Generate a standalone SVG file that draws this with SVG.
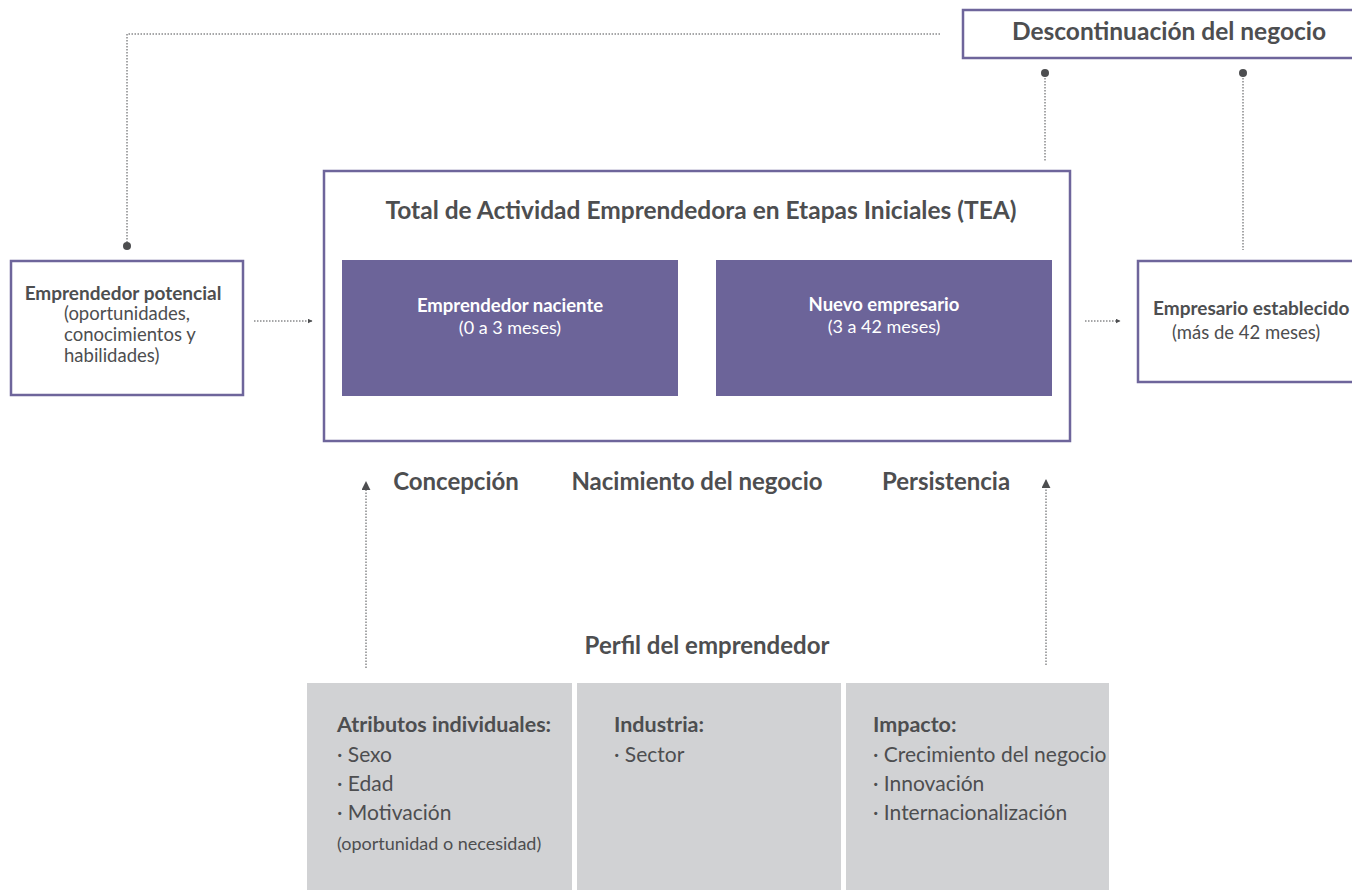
<svg xmlns="http://www.w3.org/2000/svg" width="1352" height="890" viewBox="0 0 1352 890">
<style>
.frame{fill:#fff;stroke:#6e659b;stroke-width:2.5}
.purple{fill:#6c6499}
.gray{fill:#d1d2d4}
.t{font-family:Lato,"Open Sans","Liberation Sans",sans-serif;fill:#4d4e50}
.b{font-weight:700}
.w{fill:#fff}
.dot{stroke:#4d4e50;stroke-width:1;stroke-dasharray:1.5 1.5;fill:none}
.pin{fill:#4d4e50}
</style>
<defs>
<marker id="ah" viewBox="0 0 10 10" refX="9" refY="5" markerWidth="5" markerHeight="5" orient="auto" markerUnits="userSpaceOnUse">
<path d="M0,0 L10,5 L0,10 Z" fill="#4d4e50"/>
</marker>
<marker id="ahu" viewBox="0 0 10 10" refX="9" refY="5" markerWidth="9" markerHeight="9" orient="auto" markerUnits="userSpaceOnUse">
<path d="M0,0 L10,5 L0,10 Z" fill="#4d4e50"/>
</marker>
</defs>

<g id="connectors">
<polyline class="dot" points="940,34 127,34 127,244"/>
<circle class="pin" cx="127" cy="246" r="4"/>
<line class="dot" x1="1045" y1="75" x2="1045" y2="162"/>
<circle class="pin" cx="1045" cy="73" r="4"/>
<line class="dot" x1="1243" y1="75" x2="1243" y2="250"/>
<circle class="pin" cx="1243" cy="73" r="4"/>
<line class="dot" x1="254" y1="321" x2="312" y2="321" marker-end="url(#ah)"/>
<line class="dot" x1="686" y1="321" x2="707" y2="321" marker-end="url(#ah)"/>
<line class="dot" x1="1085" y1="321" x2="1120" y2="321" marker-end="url(#ah)"/>
<line class="dot" x1="366" y1="668" x2="366" y2="482" marker-end="url(#ahu)"/>
<line class="dot" x1="1046" y1="665" x2="1046" y2="480" marker-end="url(#ahu)"/>
</g>

<g id="descontinuacion">
<rect class="frame" x="963" y="10" width="400" height="48"/>
<text class="t b" x="1169" y="40" font-size="24.5" text-anchor="middle">Descontinuación del negocio</text>
</g>

<g id="potencial">
<rect class="frame" x="11" y="261" width="232" height="134"/>
<text class="t b" x="123" y="300" font-size="19" text-anchor="middle">Emprendedor potencial</text>
<text class="t" x="64" y="320" font-size="18.5">(oportunidades,</text>
<text class="t" x="64" y="341" font-size="18.5">conocimientos y</text>
<text class="t" x="64" y="362" font-size="18.5">habilidades)</text>
</g>

<g id="tea">
<rect class="frame" x="324" y="171" width="746" height="270"/>
<text class="t b" x="701" y="219" font-size="24.5" text-anchor="middle">Total de Actividad Emprendedora en Etapas Iniciales (TEA)</text>
</g>

<g id="naciente">
<rect class="purple" x="342" y="260" width="336" height="136"/>
<text class="t b w" x="510" y="312" font-size="18.5" text-anchor="middle">Emprendedor naciente</text>
<text class="t w" x="510" y="334" font-size="18" text-anchor="middle">(0 a 3 meses)</text>
</g>

<g id="nuevo">
<rect class="purple" x="716" y="260" width="336" height="136"/>
<text class="t b w" x="884" y="311" font-size="18.5" text-anchor="middle">Nuevo empresario</text>
<text class="t w" x="884" y="333" font-size="18" text-anchor="middle">(3 a 42 meses)</text>
</g>

<g id="establecido">
<rect class="frame" x="1138" y="261" width="230" height="121"/>
<text class="t b" x="1153" y="315" font-size="19">Empresario establecido</text>
<text class="t" x="1172" y="339" font-size="18.5">(más de 42 meses)</text>
</g>

<g id="etapas">
<text class="t b" x="456" y="490" font-size="24" text-anchor="middle">Concepción</text>
<text class="t b" x="697" y="490" font-size="24" text-anchor="middle">Nacimiento del negocio</text>
<text class="t b" x="946" y="490" font-size="24" text-anchor="middle">Persistencia</text>
</g>

<g id="perfil">
<text class="t b" x="707" y="654" font-size="24" text-anchor="middle">Perfil del emprendedor</text>
</g>

<g id="atributos">
<rect class="gray" x="307" y="683" width="265" height="207"/>
<text class="t b" x="337" y="732" font-size="21.5">Atributos individuales:</text>
<text class="t" x="337" y="762" font-size="21">· Sexo</text>
<text class="t" x="337" y="791" font-size="21">· Edad</text>
<text class="t" x="337" y="820" font-size="21">· Motivación</text>
<text class="t" x="337" y="850" font-size="18">(oportunidad o necesidad)</text>
</g>

<g id="industria">
<rect class="gray" x="577" y="683" width="264" height="207"/>
<text class="t b" x="614" y="732" font-size="21.5">Industria:</text>
<text class="t" x="614" y="762" font-size="21">· Sector</text>
</g>

<g id="impacto">
<rect class="gray" x="846" y="683" width="263" height="207"/>
<text class="t b" x="873" y="732" font-size="21.5">Impacto:</text>
<text class="t" x="873" y="762" font-size="21">· Crecimiento del negocio</text>
<text class="t" x="873" y="791" font-size="21">· Innovación</text>
<text class="t" x="873" y="820" font-size="21">· Internacionalización</text>
</g>
</svg>
